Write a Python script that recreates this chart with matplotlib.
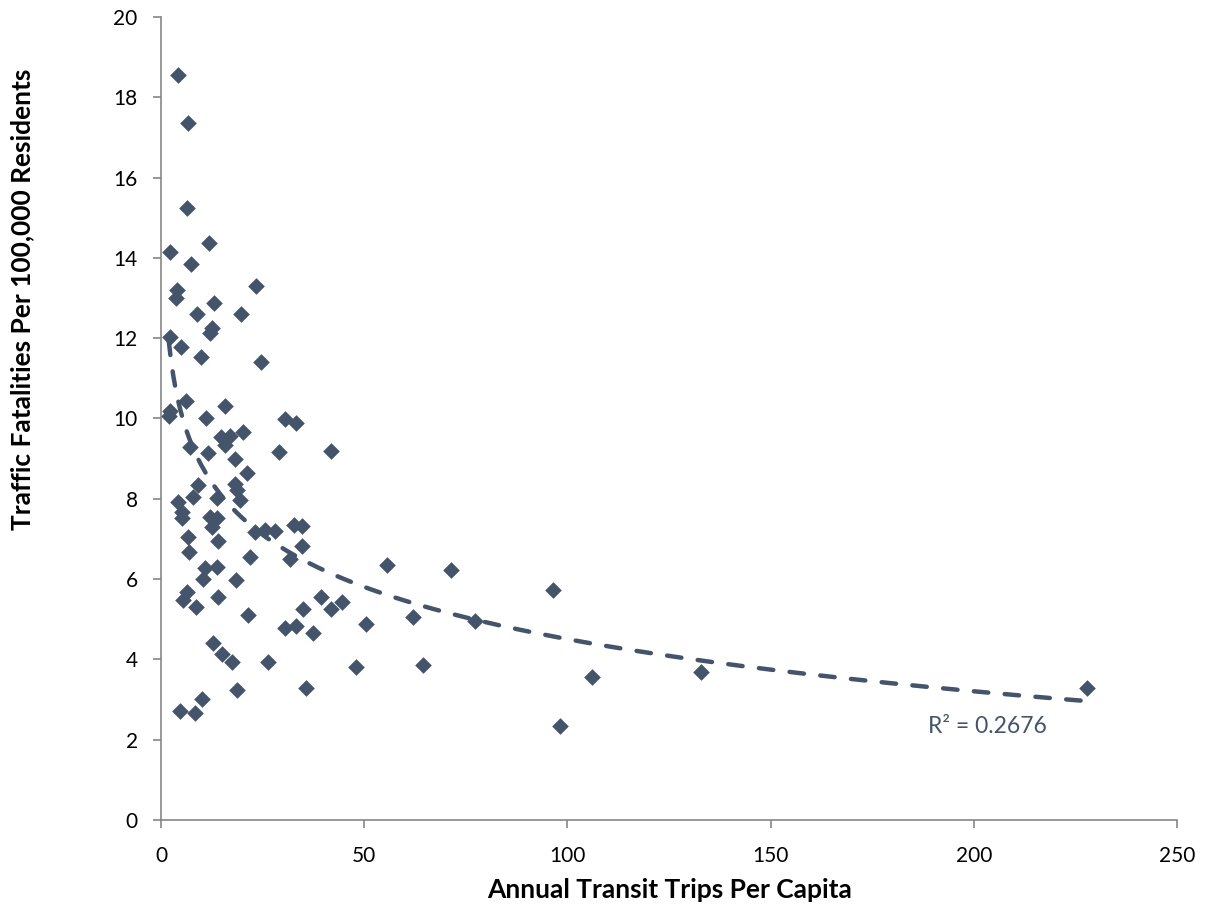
import matplotlib

matplotlib.use("Agg")
import matplotlib.pyplot as plt
import numpy as np

# annual transit trips per capita vs traffic fatalities per 100,000 residents
trips = [4.2, 6.6, 6.4, 2.2, 11.8, 7.4, 3.9, 3.7, 23.4, 13.0, 8.9, 19.7, 12.5, 12.1,
         2.2, 4.9, 9.8, 24.6, 6.2, 15.7, 1.9, 2.3, 11.1, 30.5, 33.2, 14.8, 17.0, 20.2,
         15.7, 7.1, 11.6, 29.0, 41.8, 18.2, 21.2, 9.1, 18.2, 18.7, 7.9, 13.8, 19.4,
         4.2, 5.2, 5.2, 12.1, 13.8, 12.5, 23.1, 25.6, 28.1, 32.7, 34.7, 6.6, 14.0,
         34.7, 6.9, 21.9, 31.7, 55.6, 71.4, 10.8, 13.8, 10.3, 18.5, 96.5, 6.4, 5.4,
         14.0, 39.4, 8.6, 44.5, 34.9, 41.8, 21.4, 62.0, 77.3, 50.4, 33.2, 30.5, 37.4,
         12.8, 15.0, 17.5, 26.3, 64.5, 48.0, 132.9, 106.1, 35.7, 227.9, 18.7, 10.1,
         4.7, 8.4, 98.2]
fatalities = [18.56, 17.36, 15.24, 14.15, 14.37, 13.85, 13.2, 13.0, 13.3, 12.88, 12.6,
              12.6, 12.25, 12.13, 12.03, 11.78, 11.53, 11.41, 10.44, 10.31, 10.05, 10.18,
              10.01, 9.99, 9.89, 9.54, 9.56, 9.66, 9.34, 9.29, 9.14, 9.17, 9.19, 8.99,
              8.64, 8.34, 8.37, 8.22, 8.04, 8.02, 7.97, 7.92, 7.67, 7.52, 7.55, 7.52,
              7.30, 7.17, 7.22, 7.20, 7.35, 7.32, 7.05, 6.95, 6.82, 6.67, 6.55, 6.50,
              6.35, 6.23, 6.28, 6.30, 6.0, 5.98, 5.73, 5.68, 5.48, 5.55, 5.55, 5.31,
              5.43, 5.26, 5.26, 5.11, 5.06, 4.96, 4.88, 4.83, 4.78, 4.66, 4.41, 4.13,
              3.94, 3.94, 3.86, 3.81, 3.69, 3.56, 3.29, 3.29, 3.24, 3.01, 2.71, 2.67,
              2.34]
r2_label = "R\u00b2 = 0.2676"

color = "#44546A"
plt.rcParams["font.family"] = ["Lato", "DejaVu Sans"]

fig = plt.figure(figsize=(12.05, 9.13), dpi=100)
ax = fig.add_axes([0.1336, 0.1019, 0.8432, 0.8795])

x = np.array(trips)
y = np.array(fatalities)
ax.scatter(x, y, marker="D", s=72, color=color, linewidths=0, zorder=3)

# logarithmic trendline
a, b = np.polyfit(np.log(x), y, 1)
xs = np.linspace(x.min(), x.max(), 400)
line, = ax.plot(xs, a * np.log(xs) + b, color=color, lw=3.2,
                dash_capstyle="round", zorder=2)
line.set_dashes((3.25, 3.7))
ax.text(188.7, 2.32, r2_label, color=color, fontsize=16.5, ha="left", va="center")

ax.set_xlim(0, 250)
ax.set_ylim(0, 20)
ax.set_xticks(range(0, 251, 50))
ax.set_yticks(range(0, 21, 2))
for s in ["top", "right"]:
    ax.spines[s].set_visible(False)
for s in ["left", "bottom"]:
    ax.spines[s].set_color("#868686")
    ax.spines[s].set_linewidth(1.2)
ax.tick_params(colors="#868686", labelcolor="black", labelsize=15, length=5.8, width=1.2)
ax.tick_params(axis="x", pad=13)
ax.tick_params(axis="y", pad=11)

ax.set_xlabel("Annual Transit Trips Per Capita", fontsize=19, fontweight="bold")
ax.set_ylabel("Traffic Fatalities Per 100,000 Residents", fontsize=19, fontweight="bold")
ax.xaxis.set_label_coords(0.501, -0.087)
ax.xaxis.label.set_va("center")
ax.yaxis.set_label_coords(-0.137, 0.648)
ax.yaxis.label.set_va("center")

fig.savefig("out.png", dpi=100)
plt.close(fig)
